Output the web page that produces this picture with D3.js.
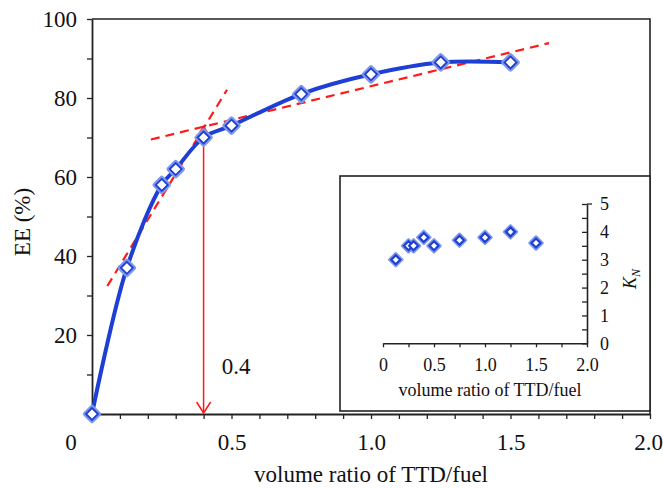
<!DOCTYPE html>
<html>
<head>
<meta charset="utf-8">
<script src="https://cdn.jsdelivr.net/npm/d3@7"></script>
<style>
  html, body { margin: 0; padding: 0; background: #fff; }
  svg { display: block; }
  svg text { font-family: "Liberation Serif", "Times New Roman", serif; }
</style>
</head>
<body>
<svg id="chart" width="663" height="488"></svg>
<script>
// Extraction efficiency vs. TTD/fuel volume ratio
const ratio = [0, 0.125, 0.25, 0.3, 0.4, 0.5, 0.75, 1.0, 1.25, 1.5];
const ee = [0, 37, 58, 62, 70, 73, 81, 86, 89, 89];

// Distribution coefficient K_N (inset)
const kRatio = [0.125, 0.25, 0.3, 0.4, 0.5, 0.75, 1.0, 1.25, 1.5];
const kN = [3.0, 3.5, 3.5, 3.8, 3.5, 3.7, 3.8, 4.0, 3.6];

// Tangent lines of the steep and flat regions, and the break point
const steepTangent = [[0.055, 32.4], [0.484, 82.1]];
const flatTangent = [[0.211, 69.5], [1.638, 93.9]];
const breakRatio = 0.4;
const breakEE = 72.8;

const xTickLabels = [0.5, 1.0, 1.5, 2.0];
const yTickLabels = [20, 40, 60, 80, 100];
const insetXTickLabels = [0, 0.5, 1.0, 1.5, 2.0];
const insetYTickLabels = [0, 1, 2, 3, 4, 5];

const SERIF = "Liberation Serif, Times New Roman, serif";
const svg = d3.select("#chart");
const BLUE = "#1d3fd4";
const HALO = "#7f98ea";
const RED = "#ff1a1a";
const AXIS = "#222";
const MAIN_FONT = 23;
const INSET_FONT = 18;

// ---------- main chart ----------
const x = d3.scaleLinear().domain([0, 2]).range([92, 650]);
const y = d3.scaleLinear().domain([0, 100]).range([414, 19]);

// frame (top and right)
svg.append("path")
  .attr("d", `M${x(0)},${y(100)}H${x(2)}V${y(0)}`)
  .attr("fill", "none").attr("stroke", AXIS).attr("stroke-width", 1.6);

function styleAxis(g, size, width) {
  g.attr("font-family", SERIF);
  g.select(".domain").attr("stroke", AXIS).attr("stroke-width", width);
  g.selectAll(".tick line").attr("stroke", AXIS).attr("stroke-width", 1.3);
  g.selectAll(".tick text").attr("font-size", size).attr("font-family", SERIF).attr("fill", "#111");
}

// x axis
const xAxis = d3.axisBottom(x)
  .tickValues(d3.range(0, 21).map(i => i / 10))
  .tickSizeInner(5).tickSizeOuter(0).tickPadding(15)
  .tickFormat(d => xTickLabels.some(v => Math.abs(v - d) < 1e-9) ? d3.format(".1f")(d) : "");
const gx = svg.append("g").attr("transform", `translate(0,${y(0)})`).call(xAxis);
styleAxis(gx, MAIN_FONT, 1.8);
// keep the last label inside the page edge
gx.selectAll(".tick text").filter(d => d === 2).attr("dx", -2);
svg.append("text").attr("x", x(0) - 21).attr("y", y(0) + 36)
  .attr("text-anchor", "middle").attr("font-size", MAIN_FONT).attr("fill", "#111").text("0");

// y axis
const yAxis = d3.axisLeft(y)
  .tickValues(d3.range(0, 11).map(i => i * 10))
  .tickSizeInner(5).tickSizeOuter(0).tickPadding(10)
  .tickFormat(d => yTickLabels.includes(d) ? d : "");
const gy = svg.append("g").attr("transform", `translate(${x(0)},0)`).call(yAxis);
styleAxis(gy, MAIN_FONT, 1.8);

// axis titles
svg.append("text").attr("x", 371).attr("y", 482)
  .attr("text-anchor", "middle").attr("font-size", MAIN_FONT).attr("fill", "#111")
  .text("volume ratio of TTD/fuel");
svg.append("text").attr("transform", "translate(30,222) rotate(-90)")
  .attr("text-anchor", "middle").attr("font-size", MAIN_FONT).attr("fill", "#111")
  .text("EE (%)");

// ---------- inset ----------
svg.append("rect").attr("x", 340).attr("y", 176).attr("width", 310).attr("height", 235)
  .attr("fill", "#fff").attr("stroke", AXIS).attr("stroke-width", 1.6);

const ix = d3.scaleLinear().domain([0, 2]).range([383, 587]);
const iy = d3.scaleLinear().domain([0, 5]).range([343.3, 204]);

const ixAxis = d3.axisBottom(ix)
  .tickValues(d3.range(0, 9).map(i => i * 0.25))
  .tickSizeInner(4).tickSizeOuter(0).tickPadding(11)
  .tickFormat(d => insetXTickLabels.includes(d) ? (d === 0 ? "0" : d3.format(".1f")(d)) : "");
const gix = svg.append("g").attr("transform", `translate(0,${iy(0)})`).call(ixAxis);
styleAxis(gix, INSET_FONT, 1.6);

const iyAxis = d3.axisRight(iy)
  .tickValues(d3.range(0, 11).map(i => i * 0.5))
  .tickSizeInner(-5).tickSizeOuter(0).tickPadding(13)
  .tickFormat(d => insetYTickLabels.includes(d) ? d : "");
const giy = svg.append("g").attr("transform", `translate(${ix(2)},0)`).call(iyAxis);
styleAxis(giy, INSET_FONT, 1.6);
svg.append("line").attr("x1", ix(2)).attr("x2", ix(2) + 5).attr("y1", iy(5)).attr("y2", iy(5))
  .attr("stroke", AXIS).attr("stroke-width", 1.3);

svg.append("text").attr("x", 490).attr("y", 396)
  .attr("text-anchor", "middle").attr("font-size", INSET_FONT).attr("fill", "#111")
  .text("volume ratio of TTD/fuel");
const kLabel = svg.append("text").attr("transform", "translate(636,279) rotate(-90)")
  .attr("text-anchor", "middle").attr("font-size", 18).attr("fill", "#111");
kLabel.append("tspan").attr("font-style", "italic").text("K");
kLabel.append("tspan").attr("font-style", "italic").attr("font-size", 12).attr("dy", 4).text("N");

const diamond = r => `M0,${-r}L${r},0L0,${r}L${-r},0Z`;
const insetPts = kRatio.map((r, i) => [r, kN[i]]);
const ig = svg.append("g");
ig.selectAll("path.halo").data(insetPts).join("path")
  .attr("class", "halo").attr("d", diamond(6.5))
  .attr("transform", d => `translate(${ix(d[0])},${iy(d[1])})`)
  .attr("fill", HALO).attr("stroke", HALO).attr("stroke-width", 2.5).attr("stroke-linejoin", "round");
ig.selectAll("path.core").data(insetPts).join("path")
  .attr("class", "core").attr("d", diamond(4.5))
  .attr("transform", d => `translate(${ix(d[0])},${iy(d[1])})`)
  .attr("fill", "#fff").attr("stroke", BLUE).attr("stroke-width", 2.2);

// ---------- tangents and break-point arrow ----------
const line = d3.line().x(d => x(d[0])).y(d => y(d[1]));
[steepTangent, flatTangent].forEach(t => {
  svg.append("path").attr("d", line(t))
    .attr("fill", "none").attr("stroke", RED).attr("stroke-width", 2.2)
    .attr("stroke-dasharray", "9,6");
});

const ax = x(breakRatio), ayTop = y(breakEE), ayBot = y(0);
svg.append("line").attr("x1", ax).attr("x2", ax).attr("y1", ayTop).attr("y2", ayBot - 1)
  .attr("stroke", RED).attr("stroke-width", 1.5);
svg.append("path").attr("d", `M${ax - 7},${ayBot - 12}L${ax},${ayBot - 1}L${ax + 7},${ayBot - 12}`)
  .attr("fill", "none").attr("stroke", RED).attr("stroke-width", 1.5);
svg.append("path").attr("d", `M${ax - 5},${ayTop + 8}L${ax},${ayTop}L${ax + 5},${ayTop + 8}`)
  .attr("fill", "none").attr("stroke", RED).attr("stroke-width", 1.5);
svg.append("text").attr("x", 236).attr("y", 374)
  .attr("text-anchor", "middle").attr("font-size", MAIN_FONT).attr("fill", "#111").text(breakRatio.toFixed(1));

// ---------- EE curve and markers ----------
const pts = ratio.map((r, i) => [r, ee[i]]);
svg.append("path")
  .attr("d", d3.line().x(d => x(d[0])).y(d => y(d[1])).curve(d3.curveCatmullRom.alpha(0.5))(pts))
  .attr("fill", "none").attr("stroke", BLUE).attr("stroke-width", 4).attr("stroke-linejoin", "round");

const mg = svg.append("g");
mg.selectAll("path.halo").data(pts).join("path")
  .attr("class", "halo").attr("d", diamond(7))
  .attr("transform", d => `translate(${x(d[0])},${y(d[1])})`)
  .attr("fill", "none").attr("stroke", HALO).attr("stroke-width", 4.5).attr("stroke-linejoin", "round");
mg.selectAll("path.core").data(pts).join("path")
  .attr("class", "core").attr("d", diamond(6))
  .attr("transform", d => `translate(${x(d[0])},${y(d[1])})`)
  .attr("fill", "#fff").attr("stroke", BLUE).attr("stroke-width", 1.8);
</script>
</body>
</html>
